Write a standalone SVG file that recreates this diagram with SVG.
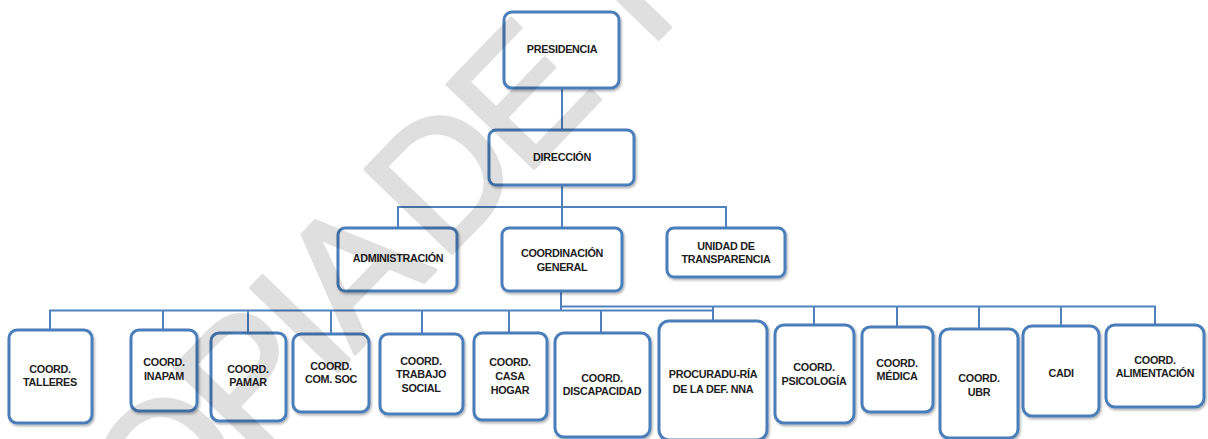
<svg xmlns="http://www.w3.org/2000/svg" width="1208" height="439" viewBox="0 0 1208 439">
<defs>
<filter id="sh" x="-10%" y="-10%" width="130%" height="130%">
<feDropShadow dx="1.2" dy="1.8" stdDeviation="1.2" flood-color="#000" flood-opacity="0.3"/>
</filter>
<style>
.box{fill:#ffffff;stroke:#4a7ebb;stroke-width:3;filter:url(#sh)}
.t{font-family:"Liberation Sans",Arial,sans-serif;font-weight:700;font-size:10.8px;letter-spacing:-0.3px;fill:#1e1e1e;text-anchor:middle}
.c{fill:none;stroke:#4f81bd;stroke-width:2}
.wm{font-family:"Liberation Sans",Arial,sans-serif;font-weight:400;font-size:175px;letter-spacing:-8px;fill:#000;stroke:#000;stroke-width:4;stroke-linejoin:round}
</style>
</defs>
<rect width="1208" height="439" fill="#ffffff"/>
<g id="connectors">
<path class="c" d="M562 88V130M562 185V228M398 228V207H726V228"/>
<path class="c" d="M561 291V311"/>
<path class="c" d="M50 330V310.5H713M163 310.5V330M248 310.5V333M331 310.5V334M422 310.5V334M509 310.5V333M601 310.5V333"/>
<path class="c" d="M561 306.5H1155V325M713 306.5V321M814 306.5V325M897 306.5V327M979 306.5V329M1061 306.5V326"/>
</g>
<g id="presidencia"><rect class="box" x="504" y="12" width="115" height="76" rx="8"/><text class="t" x="562" y="53">PRESIDENCIA</text></g>
<g id="direccion"><rect class="box" x="489" y="130" width="145" height="55" rx="7"/><text class="t" x="562" y="161">DIRECCIÓN</text></g>
<g id="administracion"><rect class="box" x="338" y="228" width="119" height="63" rx="7"/><text class="t" x="398" y="262">ADMINISTRACIÓN</text></g>
<g id="coordinacion-general"><rect class="box" x="502" y="228" width="120" height="63" rx="7"/><text class="t" x="562" y="257">COORDINACIÓN</text><text class="t" x="562" y="271">GENERAL</text></g>
<g id="transparencia"><rect class="box" x="667" y="228" width="118" height="49" rx="7"/><text class="t" x="726" y="250">UNIDAD DE</text><text class="t" x="726" y="263">TRANSPARENCIA</text></g>
<g id="talleres"><rect class="box" x="9" y="330" width="83" height="93" rx="8"/><text class="t" x="50" y="373">COORD.</text><text class="t" x="50" y="386">TALLERES</text></g>
<g id="inapam"><rect class="box" x="131" y="330" width="66" height="81" rx="8"/><text class="t" x="164" y="366">COORD.</text><text class="t" x="164" y="380">INAPAM</text></g>
<g id="pamar"><rect class="box" x="211" y="333" width="75" height="88" rx="8"/><text class="t" x="248" y="373">COORD.</text><text class="t" x="248" y="386">PAMAR</text></g>
<g id="comsoc"><rect class="box" x="293" y="334" width="76" height="78" rx="8"/><text class="t" x="331" y="370">COORD.</text><text class="t" x="331" y="383">COM. SOC</text></g>
<g id="trabajo-social"><rect class="box" x="380" y="334" width="83" height="80" rx="8"/><text class="t" x="421" y="365">COORD.</text><text class="t" x="421" y="378">TRABAJO</text><text class="t" x="421" y="392">SOCIAL</text></g>
<g id="casa-hogar"><rect class="box" x="474" y="333" width="73" height="87" rx="8"/><text class="t" x="510" y="366">COORD.</text><text class="t" x="510" y="380">CASA</text><text class="t" x="510" y="394">HOGAR</text></g>
<g id="discapacidad"><rect class="box" x="555" y="333" width="95" height="104" rx="9"/><text class="t" x="602" y="382">COORD.</text><text class="t" x="602" y="395">DISCAPACIDAD</text></g>
<g id="procuraduria"><rect class="box" x="659" y="321" width="108" height="119" rx="10"/><text class="t" x="713" y="378">PROCURADU-RÍA</text><text class="t" x="713" y="393">DE LA DEF. NNA</text></g>
<g id="psicologia"><rect class="box" x="775" y="325" width="79" height="98" rx="9"/><text class="t" x="814" y="371">COORD.</text><text class="t" x="814" y="385">PSICOLOGÍA</text></g>
<g id="medica"><rect class="box" x="862" y="327" width="71" height="85" rx="8"/><text class="t" x="897" y="367">COORD.</text><text class="t" x="897" y="380">MÉDICA</text></g>
<g id="ubr"><rect class="box" x="940" y="329" width="78" height="109" rx="9"/><text class="t" x="979" y="382">COORD.</text><text class="t" x="979" y="396">UBR</text></g>
<g id="cadi"><rect class="box" x="1023" y="326" width="76" height="90" rx="9"/><text class="t" x="1061" y="377">CADI</text></g>
<g id="alimentacion"><rect class="box" x="1106" y="325" width="98" height="82" rx="9"/><text class="t" x="1155" y="364">COORD.</text><text class="t" x="1155" y="377">ALIMENTACIÓN</text></g>
<g id="watermark" opacity="0.12" transform="translate(451 254) rotate(-46)">
<text class="wm" x="-30" y="0" text-anchor="end">COPIA</text>
<text class="wm" x="-13" y="0">DE</text>
<text class="wm" x="283" y="0">I</text>
</g>
</svg>
